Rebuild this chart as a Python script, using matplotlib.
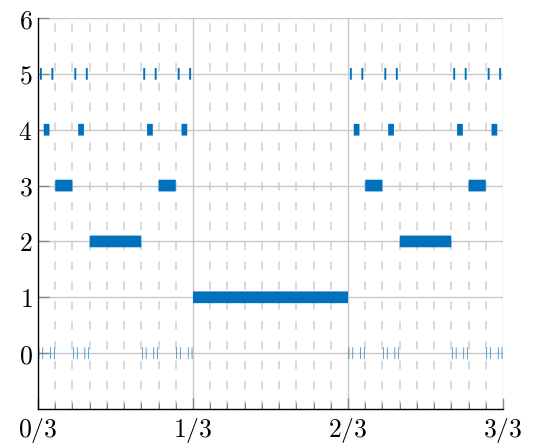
import matplotlib
matplotlib.use("Agg")
import matplotlib.pyplot as plt

plt.rcParams["mathtext.fontset"] = "cm"
plt.rcParams["font.family"] = ["DejaVu Serif"]

# Tramos eliminados del conjunto de Cantor: numerador izquierdo sobre 3**nivel
niveles = [1, 2, 3, 4, 5, 6]
fila_y = [1, 2, 3, 4, 5, 0]
numeradores = [
    [1],
    [1, 7],
    [1, 7, 19, 25],
    [1, 7, 19, 25, 55, 61, 73, 79],
    [1, 7, 19, 25, 55, 61, 73, 79, 163, 169, 181, 187, 217, 223, 235, 241],
    [1, 7, 19, 25, 55, 61, 73, 79, 163, 169, 181, 187, 217, 223, 235, 241,
     487, 493, 505, 511, 541, 547, 559, 565, 649, 655, 667, 673, 703, 709, 721, 727],
]
etiquetas_x = ["$0/3$", "$1/3$", "$2/3$", "$3/3$"]
etiquetas_y = ["$0$", "$1$", "$2$", "$3$", "$4$", "$5$", "$6$"]

azul = "#0072BD"
alto = 0.21

fig = plt.figure(figsize=(5.39, 4.44), dpi=100)
ax = fig.add_axes([38 / 539, 35 / 444, 465 / 539, 391 / 444])

# rejilla
for k in range(1, 27):
    if k % 9 == 0:
        continue
    ax.axvline(k / 27, color="#cfcfcf", lw=1.1, ls=(0, (5.5, 7.5)), zorder=0)
for xv in [1 / 3, 2 / 3, 1]:
    ax.axvline(xv, color="#c8c8c8", lw=1.0, zorder=0.5)
for yv in range(0, 7):
    ax.axhline(yv, color="#c8c8c8", lw=1.0, zorder=0.5)

for nivel, y, nums in zip(niveles, fila_y, numeradores):
    ancho = 1 / 3 ** nivel
    tramos = [(n * ancho, ancho) for n in nums]
    ax.broken_barh(tramos, (y - alto / 2, alto), facecolors=azul,
                   edgecolor="none", linewidth=0, snap=False, zorder=2)

ax.set_xlim(0, 1)
ax.set_ylim(-1, 6)
ax.set_xticks([0, 1 / 3, 2 / 3, 1])
ax.set_xticklabels(etiquetas_x, fontsize=18.5)
ax.set_xticks([k / 27 for k in range(1, 27) if k % 9 != 0], minor=True)
ax.set_yticks(range(0, 7))
ax.set_yticklabels(etiquetas_y, fontsize=18.5)

ax.tick_params(axis="both", which="major", direction="in", length=8,
               width=1.0, color="#8a8a8a", pad=5)
ax.tick_params(axis="x", which="minor", direction="in", length=4,
               width=0.7, color="#7a7a7a")
ax.tick_params(axis="y", which="major", pad=4)

ax.spines["top"].set_visible(False)
ax.spines["right"].set_visible(False)
ax.spines["left"].set_linewidth(1.0)
ax.spines["bottom"].set_linewidth(1.0)

fig.savefig("out.png", dpi=100)
